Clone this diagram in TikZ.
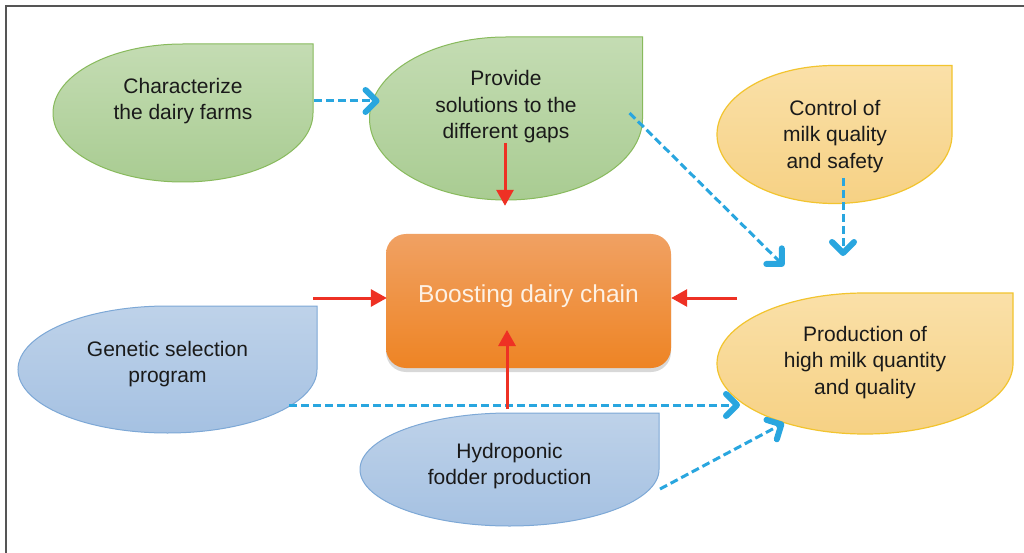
\documentclass[tikz,border=0pt]{standalone}
\usepackage{fontspec}
\setmainfont{Liberation Sans}
\usetikzlibrary{arrows.meta,shadows}
\definecolor{greenA}{HTML}{C4DCB3}
\definecolor{greenB}{HTML}{A9CC92}
\definecolor{greenS}{HTML}{88BA5C}
\definecolor{yelA}{HTML}{FAE0A8}
\definecolor{yelB}{HTML}{F6D184}
\definecolor{yelS}{HTML}{F2C42E}
\definecolor{bluA}{HTML}{BED2E9}
\definecolor{bluB}{HTML}{A5C1E2}
\definecolor{bluS}{HTML}{7DA8D6}
\definecolor{orA}{HTML}{F0A163}
\definecolor{orB}{HTML}{EE8424}
\definecolor{cyanarrow}{HTML}{29A6DF}
\definecolor{redarrow}{HTML}{EE3124}
\definecolor{framegray}{HTML}{555555}
\definecolor{txtdark}{HTML}{1A1A1A}
\definecolor{boosttxt}{HTML}{FDF1E4}
\tikzset{
  shapebox/.style={draw=none, inner sep=0pt, outer sep=0pt},
  greenfill/.style={draw=greenS, line width=1pt, top color=greenA, bottom color=greenB},
  yelfill/.style={draw=yelS, line width=1.2pt, top color=yelA, bottom color=yelB},
  blufill/.style={draw=bluS, line width=1pt, top color=bluA, bottom color=bluB},
  txt/.style={align=center, text=txtdark, font=\fontsize{21}{26.5}\selectfont, inner sep=0pt},
  bluearrow/.style={draw=cyanarrow, line width=3pt, dash pattern=on 8pt off 4pt,
    -{Straight Barb[length=11pt, width=22pt, line width=6pt 0, round]}},
  redarrow/.style={draw=redarrow, line width=3pt, -{Triangle[length=16pt, width=17pt]}},
}
\newcommand\teardropnode[5]{%
  \node[shapebox, minimum width=2*#4, minimum height=2*#5] (#2) at #3 {};
  \path[#1] (#2.north) -- (#2.north east) -- (#2.east)
    arc[start angle=0, end angle=-270, x radius=#4pt, y radius=#5pt] -- cycle;
}
\begin{document}
\begin{tikzpicture}[x=1pt, y=-1pt]
\useasboundingbox (0,0) rectangle (1024,553);
\fill[white] (0,0) rectangle (1024,553);
\draw[framegray, line width=1.6pt] (6,553) -- (6,6) -- (1024,6);

% shapes
\teardropnode{greenfill}{char}{(183,113)}{130}{69}
\teardropnode{greenfill}{prov}{(506,118.5)}{136.5}{81.5}
\teardropnode{yelfill}{ctrl}{(834.5,134.5)}{117.5}{69}
\teardropnode{yelfill}{prod}{(865,363.5)}{148}{70.5}
\teardropnode{blufill}{gen}{(167.5,369.5)}{149.5}{63.5}
\teardropnode{blufill}{hyd}{(509.5,469.5)}{149.5}{56.5}

\node[rounded corners=20pt, top color=orA, bottom color=orB, draw=none,
  minimum width=285pt, minimum height=134pt, inner sep=0pt,
  drop shadow={shadow xshift=0pt, shadow yshift=-4pt, opacity=0.3},
  text=boosttxt, font=\fontsize{24.5}{28}\selectfont] (boost) at (528.5,301)
  {\raisebox{15pt}{Boosting dairy chain}};

% texts
\node[txt] (chart) at (183,101) {Characterize\\the dairy farms};
\node[txt] (provt) at (506,107) {Provide\\solutions to the\\different gaps};
\node[txt] (ctrlt) at (835,136.5) {Control of\\milk quality\\and safety};
\node[txt] (prodt) at (865,362.5) {Production of\\high milk quantity\\and quality};
\node[txt] (gent) at (167.5,364) {Genetic selection\\program};
\node[txt] (hydt) at (509.5,466) {Hydroponic\\fodder production};

% blue dashed connectors
\draw[bluearrow] ([xshift=1pt, yshift=12pt]char.east) -- ([xshift=10pt, yshift=17.5pt]prov.west);
\draw[bluearrow] ([xshift=-13pt, yshift=5.5pt]prov.east) -- ([xshift=67pt, yshift=27pt]prod.north west);
\draw[bluearrow] ([xshift=8.5pt, yshift=-43.5pt]ctrl.center) -- ([xshift=-22pt, yshift=37pt]prod.north);
\draw[bluearrow] ([xshift=-28pt, yshift=-35.5pt]gen.east) -- ([xshift=23pt, yshift=-41.5pt]prod.west);
\draw[bluearrow] ([xshift=1pt, yshift=-19.5pt]hyd.east) -- ([xshift=-81pt, yshift=11pt]prod.south);

% red connectors
\draw[redarrow] ([xshift=-1pt, yshift=-24.5pt]prov.center) -- ([xshift=-23.5pt, yshift=28pt]boost.north);
\draw[redarrow] ([xshift=-4pt, yshift=8pt]gen.north east) -- ([xshift=1pt, yshift=3pt]boost.west);
\draw[redarrow] ([xshift=20pt, yshift=-5pt]prod.north west) -- ([yshift=3pt]boost.east);
\draw[redarrow] ([xshift=-2.5pt, yshift=4pt]hyd.north) -- ([xshift=-21.5pt, yshift=-29pt]boost.center);
\end{tikzpicture}
\end{document}
